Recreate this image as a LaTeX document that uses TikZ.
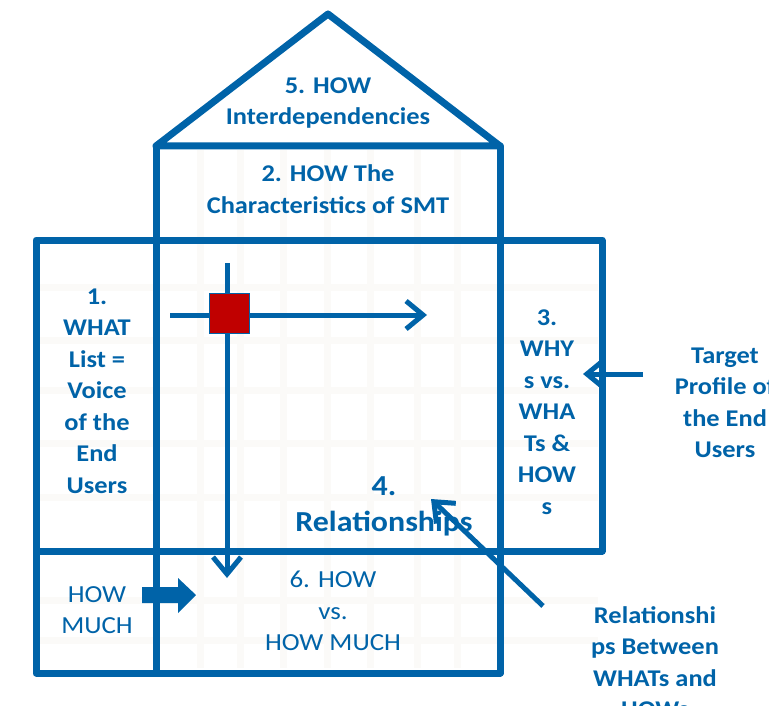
\documentclass[tikz,border=0pt]{standalone}
\usepackage{fontspec}
\setmainfont{Carlito}[FakeStretch=1.1]
\usetikzlibrary{arrows.meta}
\definecolor{qblue}{RGB}{0,99,168}
\definecolor{qred}{RGB}{192,0,0}
\definecolor{gridc}{RGB}{251,250,248}
\tikzset{
  frame/.style={draw=qblue, line width=7pt, line join=round, line cap=round},
  flow/.style={draw=qblue, line width=5pt, -{Straight Barb[length=17pt,width=28pt,line width=5pt]}},
  lbl/.style={text=qblue, font=\fontsize{24}{31.5}\selectfont\bfseries, align=center, inner sep=0pt},
  lblr/.style={text=qblue, font=\fontsize{24.5}{31.5}\selectfont, align=center, inner sep=0pt},
  faint/.style={draw=gridc, line width=7pt}
}
\begin{document}
\begin{tikzpicture}[x=1pt,y=-1pt]
\useasboundingbox (0,0) rectangle (769,706);
\clip (0,0) rectangle (769,706);
% faint background grid
\foreach \gx in {200,240,283,327,370,417,457} \draw[faint] (\gx,150) -- (\gx,668);
\foreach \gy in {287,340,390,443,497,600,640} \draw[faint] (40,\gy) -- (598,\gy);
% frames
\coordinate (apex) at (328,14);
\coordinate (rl) at (156,146);
\coordinate (rr) at (500,146);
\draw[frame] (rl) -- (apex) -- (rr) -- cycle;
\draw[frame] (rl) -- (156,673);
\draw[frame] (rr) -- (500,673);
\draw[frame] (36,240) rectangle (602,551);
\draw[frame] (36,551) rectangle (500,673);
% texts
\node[lbl] (roof) at (328,103) {5. HOW\\Interdependencies};
\node[lbl] (hows) at (328,189) {2. HOW The\\Characteristics of SMT};
\node[lbl] (what) at (97,391) {1.\\WHAT\\List =\\Voice\\of the\\End\\Users};
\node[lbl] (why) at (547,412) {3.\\WHY\\s vs.\\WHA\\Ts \&\\HOW\\s};
\node[lbl, font=\fontsize{29}{36}\selectfont\bfseries] (rel) at (384,506) {4.\\Relationships};
\node[lblr] (hvh) at (333,611) {6. HOW\\vs.\\HOW MUCH};
\node[lblr] (hm) at (97,610) {HOW\\MUCH};
\node[lbl] (target) at (725,403) {Target\\Profile of\\the End\\Users};
\node[lbl] (relb) at (655,662) {Relationshi\\ps Between\\WHATs and\\HOWs};
% arrows in the matrix
\coordinate (hs) at (170,315);
\coordinate (he) at (427,315);
\coordinate (vs) at (227,263);
\coordinate (ve) at (227,578);
\draw[flow] (hs) -- (he);
\draw[flow] (vs) -- (ve);
\node[draw=qblue, line width=1pt, fill=qred, minimum size=40pt, inner sep=0pt] (cell) at (229,313) {};
% target arrow
\coordinate (ts) at (643,374);
\coordinate (te) at (583,374);
\draw[flow] (ts) -- (te);
% diagonal arrow
\coordinate (ds) at (543,606);
\coordinate (de) at (431,499);
\draw[flow] (ds) -- (de);
% block arrow
\fill[qblue] (142,587) -- (178,587) -- (178,578) -- (196,595) -- (178,613) -- (178,603) -- (142,603) -- cycle;
\end{tikzpicture}
\end{document}
